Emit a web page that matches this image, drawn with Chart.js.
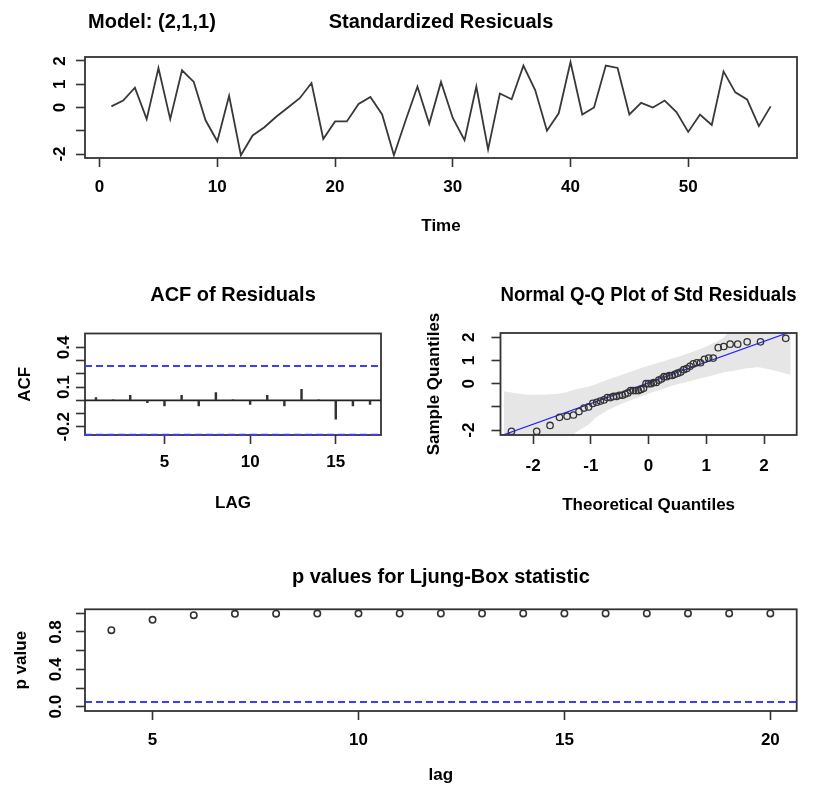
<!DOCTYPE html>
<html><head><meta charset="utf-8">
<script src="https://cdn.jsdelivr.net/npm/chart.js@4.4.1/dist/chart.umd.min.js"></script>
<style>
html,body{margin:0;padding:0;background:#fff;}
#wrap{position:relative;width:825px;height:791px;background:#fff;overflow:hidden;}
#wrap canvas{position:absolute;left:0;top:0;}
</style></head><body>
<div id="wrap">
<canvas id="c1" width="825" height="791"></canvas>
<canvas id="c2" width="825" height="791"></canvas>
<canvas id="c3" width="825" height="791"></canvas>
<canvas id="c4" width="825" height="791"></canvas>
</div>
<script>
// ---------- data ----------
const timeIdx = [1,2,3,4,5,6,7,8,9,10,11,12,13,14,15,16,17,18,19,20,21,22,23,24,25,26,27,28,29,30,31,32,33,34,35,36,37,38,39,40,41,42,43,44,45,46,47,48,49,50,51,52,53,54,55,56,57];
const residuals = [0.05,0.3,0.85,-0.5,1.7,-0.5,1.6,1.1,-0.55,-1.45,
                   0.5,-2.05,-1.2,-0.85,-0.4,0.0,0.4,1.05,-1.35,-0.6,
                   -0.6,0.15,0.45,-0.3,-2.05,-0.55,0.9,-0.7,1.1,-0.45,
                   -1.4,0.9,-1.8,0.6,0.35,1.8,0.75,-1.0,-0.25,1.95,
                   -0.3,0.0,1.8,1.7,-0.3,0.2,0.0,0.3,-0.2,-1.05,
                   -0.3,-0.75,1.55,0.65,0.35,-0.8,0.05];
const tsXTicks = [0,10,20,30,40,50];
const tsYTicks = [-2,-1,0,1,2];
const tsYLabelVals = [-2,0,1,2];
const tsYLabels = ['-2','0','1','2'];

const acfLags = [1,2,3,4,5,6,7,8,9,10,11,12,13,14,15,16,17];
const acfValues = [0.02,0.003,0.037,-0.018,-0.043,0.037,-0.043,0.058,0.003,-0.03,0.037,-0.043,0.083,0.003,-0.143,-0.043,-0.03];
const acfCI = 0.26;
const acfXTicks = [5,10,15];
const acfYTicks = [-0.2,-0.1,0,0.1,0.2,0.3,0.4];
const acfYLabelVals = [-0.2,0.1,0.4];
const acfYLabels = ['-0.2','0.1','0.4'];

const qqTheoretical = [-2.375,-1.938,-1.707,-1.543,-1.412,-1.302,-1.206,-1.119,-1.040,-0.967,-0.899,-0.835,-0.774,-0.716,-0.661,-0.607,-0.555,-0.504,-0.455,-0.407,-0.360,-0.313,-0.267,-0.222,-0.177,-0.132,-0.088,-0.044,0,0.044,0.088,0.132,0.177,0.222,0.267,0.313,0.360,0.407,0.455,0.504,0.555,0.607,0.661,0.716,0.774,0.835,0.899,0.967,1.040,1.119,1.206,1.302,1.412,1.543,1.707,1.938,2.375];
const qqSample = [-2.05,-2.05,-1.8,-1.45,-1.4,-1.35,-1.2,-1.05,-1.0,-0.85,-0.8,-0.75,-0.7,-0.6,-0.6,-0.55,-0.55,-0.5,-0.5,-0.45,-0.4,-0.3,-0.3,-0.3,-0.3,-0.25,-0.2,0,0,0,0.05,0.05,0.15,0.2,0.3,0.3,0.35,0.35,0.4,0.45,0.5,0.6,0.65,0.75,0.85,0.9,0.9,1.05,1.1,1.1,1.55,1.6,1.7,1.7,1.8,1.8,1.95];
const qqLineX = [-2.6, 2.6];
const qqLineY = [-2.281, 2.357];
const bandX = [-2.51,-2.07,-1.5,-1.27,-1.03,-0.92,-0.63,-0.05,0.5,0.93,1.28,1.39,1.85,2.14,2.46];
const bandUpper = [-0.33,-0.48,-0.41,-0.25,-0.12,-0.03,0.24,0.74,1.15,1.52,1.95,2.2,3.0,3.4,3.8];
const bandLower = [-4.0,-3.6,-2.75,-2.12,-1.75,-1.48,-1.05,-0.48,-0.03,0.24,0.47,0.52,0.70,0.59,0.38];
const qqXTicks = [-2,-1,0,1,2];
const qqYTicks = [-2,-1,0,1,2];
const qqYLabelVals = [-2,0,1,2];
const qqYLabels = ['-2','0','1','2'];

const lbLags = [4,5,6,7,8,9,10,11,12,13,14,15,16,17,18,19,20];
const lbPValues = [0.82,0.93,0.98,0.995,0.996,0.997,0.997,0.998,0.998,0.998,0.999,0.999,0.999,0.999,0.999,0.999,0.999];
const lbCrit = 0.05;
const lbXTicks = [5,10,15,20];
const lbYTicks = [0,0.2,0.4,0.6,0.8,1.0];
const lbYLabelVals = [0,0.4,0.8];
const lbYLabels = ['0.0','0.4','0.8'];

// ---------- styling helpers ----------
const FONT = '"Liberation Sans", Arial, Helvetica, sans-serif';
Chart.defaults.font.family = FONT;
Chart.defaults.font.weight = 'bold';
Chart.defaults.color = '#000';
Chart.defaults.animation = false;

const BLUE = '#3d3dff';
const DARK = '#333';
const TICK_SIZE = 17;

function gridOpts(){
  return {display:true, drawOnChartArea:false, drawTicks:true, tickLength:9, tickWidth:1.6, tickColor:DARK, offset:false};
}
function axisX(min, max, ticks, title, H, pad){
  return {type:'linear', position:'bottom', min, max, offset:false,
    afterBuildTicks: s => { s.ticks = ticks.map(v => ({value:v})); },
    afterFit: s => { s.height = H; },
    grid: gridOpts(), border:{display:false},
    ticks:{autoSkip:false, maxRotation:0, minRotation:0, padding:pad, font:{size:TICK_SIZE, weight:'bold'}, color:'#000',
      callback: v => String(v)},
    title: title ? {display:true, text:title, font:{size:17, weight:'bold'}, color:'#000', padding:0} : {display:false}
  };
}
function axisY(min, max, ticks, title, W){
  return {type:'linear', position:'left', min, max,
    afterBuildTicks: s => { s.ticks = ticks.map(v => ({value:v})); },
    afterFit: s => { s.width = W; },
    grid: gridOpts(), border:{display:false},
    ticks:{autoSkip:false, padding:0, callback: () => ''},
    title: title ? {display:true, text:title, font:{size:17, weight:'bold'}, color:'#000', padding:0} : {display:false}
  };
}
function titleOpts(text, top, bottom){
  return {display:true, text, fullSize:false, align:'center', color:'#000',
    font:{size:20, weight:'bold'}, padding:{top, bottom}};
}
function strokeFrame(chart){
  const ctx = chart.ctx, a = chart.chartArea;
  ctx.save();
  ctx.strokeStyle = DARK; ctx.lineWidth = 1.8;
  ctx.strokeRect(a.left, a.top, a.right - a.left, a.bottom - a.top);
  ctx.restore();
}
function decor(labelX, vals, labs, frameOnTop, extra){
  return {id:'decor',
  beforeDatasetsDraw(chart){ if (!frameOnTop) strokeFrame(chart); },
  afterDatasetsDraw(chart){ if (frameOnTop) strokeFrame(chart); },
  afterDraw(chart){
    const ctx = chart.ctx, ys = chart.scales.y;
    ctx.save();
    ctx.font = 'bold ' + TICK_SIZE + 'px ' + FONT;
    ctx.fillStyle = '#000'; ctx.textAlign = 'center'; ctx.textBaseline = 'middle';
    vals.forEach((v, i) => {
      ctx.save();
      ctx.translate(labelX, ys.getPixelForValue(v));
      ctx.rotate(-Math.PI / 2);
      ctx.fillText(labs[i], 0, 0);
      ctx.restore();
    });
    if (extra) extra(ctx);
    ctx.restore();
  }};
}
const common = {responsive:false, devicePixelRatio:1, animation:false, events:[]};

// ---------- panel 1: standardized residuals ----------
new Chart(document.getElementById('c1'), {
  type:'line',
  data:{datasets:[{data: timeIdx.map((t,i)=>({x:t, y:residuals[i]})), borderColor:'#383838', borderWidth:1.8, pointRadius:0, tension:0, fill:false}]},
  options:Object.assign({}, common, {
    layout:{padding:{left:0, right:28, top:0, bottom:554.8}},
    plugins:{legend:{display:false}, tooltip:{enabled:false}, title:titleOpts('Standardized Resicuals', 10, 23)},
    scales:{x:axisX(-1.24, 59.24, tsXTicks, 'Time', 78.2, 9.8), y:axisY(-2.17, 2.17, tsYTicks, null, 85)}
  }),
  plugins:[decor(60, tsYLabelVals, tsYLabels, true, ctx => {
    ctx.font = 'bold 20px ' + FONT; ctx.textAlign = 'left'; ctx.textBaseline = 'middle';
    ctx.fillText('Model: (2,1,1)', 88, 22);
  })]
});

// ---------- panel 2: ACF ----------
new Chart(document.getElementById('c2'), {
  type:'bar',
  data:{datasets:[
    {type:'bar', data: acfLags.map((l,i)=>({x:l, y:acfValues[i]})), backgroundColor:DARK, borderWidth:0, barThickness:1.8, order:0},
    {type:'line', data:[{x:0.36,y:0},{x:17.64,y:0}], borderColor:'#222', borderWidth:1.6, pointRadius:0, order:1},
    {type:'line', data:[{x:0.36,y:acfCI},{x:17.64,y:acfCI}], borderColor:BLUE, borderWidth:2, borderDash:[7,4], pointRadius:0, order:2},
    {type:'line', data:[{x:0.36,y:-acfCI},{x:17.64,y:-acfCI}], borderColor:BLUE, borderWidth:2, borderDash:[7,4], pointRadius:0, order:2, clip:4}
  ]},
  options:Object.assign({}, common, {
    layout:{padding:{left:14.8, right:444, top:283, bottom:277.5}},
    plugins:{legend:{display:false}, tooltip:{enabled:false}, title:titleOpts('ACF of Residuals', 0, 26.5)},
    scales:{x:axisX(0.36, 17.64, acfXTicks, 'LAG', 78.5, 8.3), y:axisY(-0.262, 0.505, acfYTicks, 'ACF', 70.2)}
  }),
  plugins:[decor(64.5, acfYLabelVals, acfYLabels, false)]
});

// ---------- panel 3: normal Q-Q ----------
new Chart(document.getElementById('c3'), {
  type:'scatter',
  data:{datasets:[
    {type:'scatter', data: qqTheoretical.map((x,i)=>({x, y:qqSample[i]})), pointRadius:3.2, pointBorderWidth:1.3,
      pointBorderColor:DARK, pointBackgroundColor:'rgba(0,0,0,0)', order:0},
    {type:'line', data: qqLineX.map((x,i)=>({x, y:qqLineY[i]})), borderColor:'#2525ff', borderWidth:1.2, pointRadius:0, order:1},
    {type:'line', data: bandX.map((x,i)=>({x, y:bandUpper[i]})), borderWidth:0, borderColor:'rgba(0,0,0,0)', pointRadius:0, tension:0.3, fill:false, order:3},
    {type:'line', data: bandX.map((x,i)=>({x, y:bandLower[i]})), borderWidth:0, borderColor:'rgba(0,0,0,0)', pointRadius:0, tension:0.3, fill:'-1', backgroundColor:'#e6e6e6', order:2}
  ]},
  options:Object.assign({}, common, {
    layout:{padding:{left:423.8, right:28.3, top:283.5, bottom:275.8}},
    plugins:{legend:{display:false}, tooltip:{enabled:false}, title:titleOpts('Normal Q-Q Plot of Std Residuals', 0, 25.5)},
    scales:{x:axisX(-2.565, 2.565, qqXTicks, 'Theoretical Quantiles', 80.2, 11.8), y:axisY(-2.21, 2.18, qqYTicks, 'Sample Quantiles', 76.7)}
  }),
  plugins:[decor(469, qqYLabelVals, qqYLabels, true)]
});

// ---------- panel 4: Ljung-Box p values ----------
new Chart(document.getElementById('c4'), {
  type:'scatter',
  data:{datasets:[
    {type:'scatter', data: lbLags.map((l,i)=>({x:l, y:lbPValues[i]})), pointRadius:3.2, pointBorderWidth:1.6,
      pointBorderColor:DARK, pointBackgroundColor:'rgba(0,0,0,0)', order:0},
    {type:'line', data:[{x:3.36,y:lbCrit},{x:20.64,y:lbCrit}], borderColor:BLUE, borderWidth:2, borderDash:[7,4], pointRadius:0, order:1}
  ]},
  options:Object.assign({}, common, {
    layout:{padding:{left:10.8, right:28.3, top:565.5, bottom:5.8}},
    plugins:{legend:{display:false}, tooltip:{enabled:false}, title:titleOpts('p values for Ljung-Box statistic', 0, 19.8)},
    scales:{x:axisX(3.36, 20.64, lbXTicks, 'lag', 74.2, 9.8), y:axisY(-0.046, 1.043, lbYTicks, 'p value', 74.2)}
  }),
  plugins:[decor(56, lbYLabelVals, lbYLabels, true)]
});
</script>
</body></html>
